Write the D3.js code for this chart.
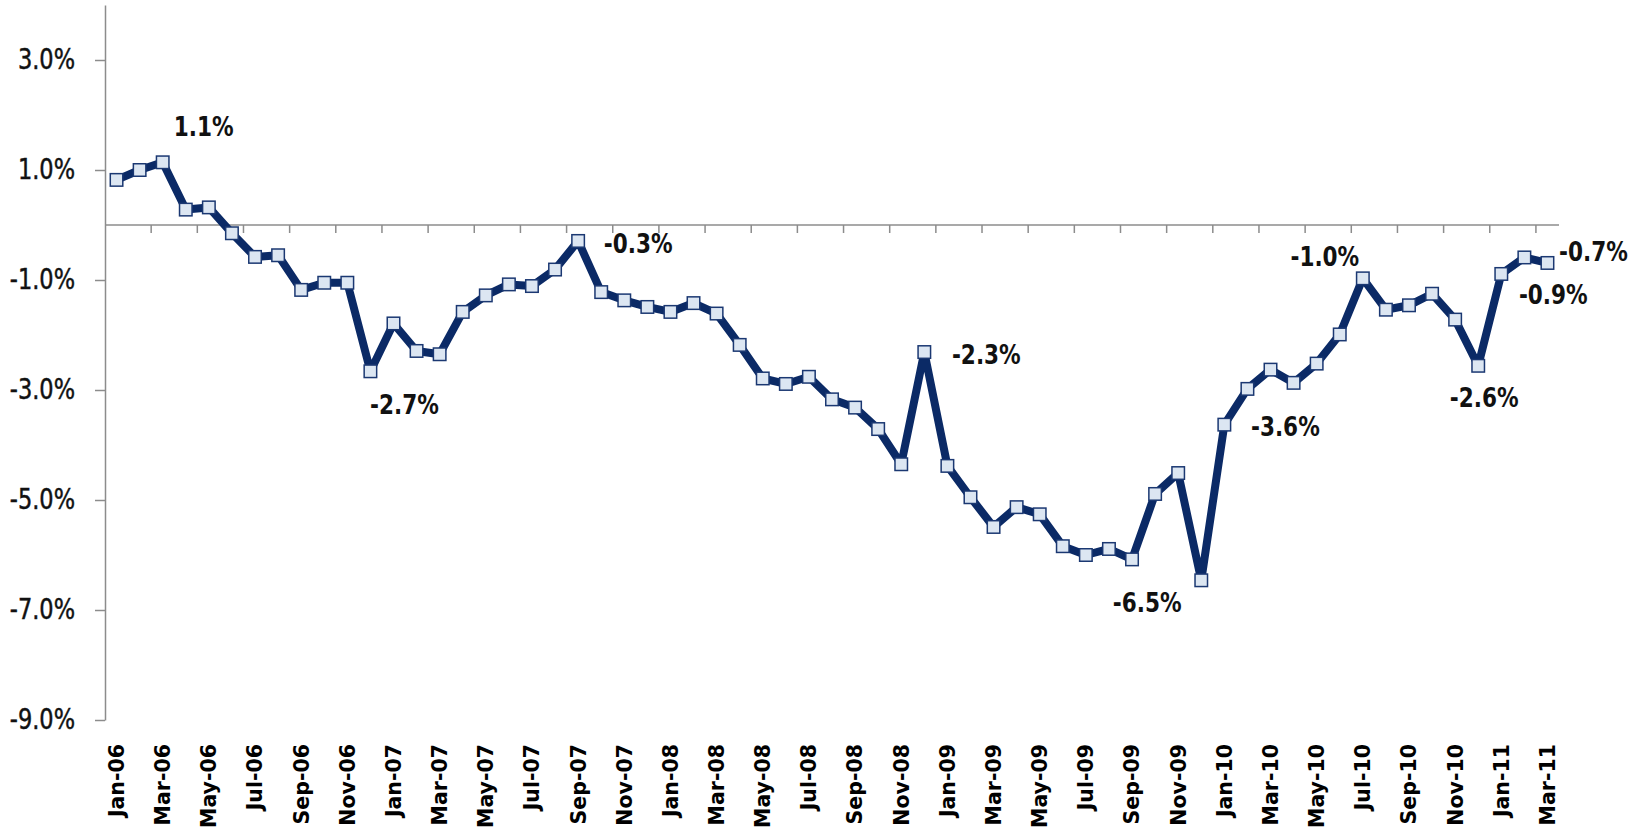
<!DOCTYPE html>
<html>
<head>
<meta charset="utf-8">
<script src="https://cdn.jsdelivr.net/npm/d3@7"></script>
<style>
  body { margin: 0; background: #fff; }
  svg { display: block; }
</style>
</head>
<body>
<svg id="chart" width="1633" height="828"></svg>
<script>
const months = [
  "Jan-06","Feb-06","Mar-06","Apr-06","May-06","Jun-06","Jul-06","Aug-06","Sep-06","Oct-06","Nov-06","Dec-06",
  "Jan-07","Feb-07","Mar-07","Apr-07","May-07","Jun-07","Jul-07","Aug-07","Sep-07","Oct-07","Nov-07","Dec-07",
  "Jan-08","Feb-08","Mar-08","Apr-08","May-08","Jun-08","Jul-08","Aug-08","Sep-08","Oct-08","Nov-08","Dec-08",
  "Jan-09","Feb-09","Mar-09","Apr-09","May-09","Jun-09","Jul-09","Aug-09","Sep-09","Oct-09","Nov-09","Dec-09",
  "Jan-10","Feb-10","Mar-10","Apr-10","May-10","Jun-10","Jul-10","Aug-10","Sep-10","Oct-10","Nov-10","Dec-10",
  "Jan-11","Feb-11","Mar-11"
];

// % change
const values = [
  0.82, 1.00, 1.14, 0.28, 0.32, -0.15, -0.58, -0.55, -1.18, -1.05, -1.05, -2.66,
  -1.79, -2.29, -2.35, -1.58, -1.28, -1.08, -1.11, -0.81, -0.29, -1.22, -1.37, -1.49,
  -1.58, -1.42, -1.61, -2.18, -2.79, -2.89, -2.76, -3.17, -3.32, -3.71, -4.35, -2.31,
  -4.38, -4.95, -5.49, -5.13, -5.26, -5.84, -6.00, -5.89, -6.08, -4.89, -4.51, -6.46,
  -3.63, -2.98, -2.63, -2.87, -2.52, -1.99, -0.97, -1.54, -1.46, -1.25, -1.72, -2.56,
  -0.89, -0.59, -0.69
];

const yTicks = [-9, -7, -5, -3, -1, 1, 3];

// which points carry a value label, and where the label sits relative to the point
const callouts = [
  { i: 2,  dx: 41,  dy: -36 },
  { i: 11, dx: 34,  dy: 33 },
  { i: 20, dx: 60,  dy: 3 },
  { i: 35, dx: 62,  dy: 2 },
  { i: 47, dx: -54, dy: 22 },
  { i: 48, dx: 61,  dy: 2 },
  { i: 54, dx: -38, dy: -22 },
  { i: 59, dx: 6,   dy: 32 },
  { i: 60, dx: 52,  dy: 21 },
  { i: 62, dx: 46,  dy: -11 }
];

const pct = v => v.toFixed(1) + "%";
const navy = "#0b2a66";
const grey = "#8c8c8c";
const condensed = "'DejaVu Sans Condensed', 'DejaVu Sans', sans-serif";

const svg = d3.select("#chart");

const x = d3.scaleBand().domain(months).range([105, 1559]);
const y = d3.scaleLinear().domain([-9, 4]).range([720, 5]);
const cx = m => x(m) + x.bandwidth() / 2;

// y axis
const yAxis = svg.append("g")
  .attr("transform", "translate(105,0)")
  .call(d3.axisLeft(y).tickValues(yTicks).tickFormat(pct).tickSize(10).tickSizeOuter(0).tickPadding(20));
yAxis.select(".domain").attr("stroke", grey).attr("stroke-width", 1.5);
yAxis.selectAll(".tick line").attr("stroke", grey).attr("stroke-width", 1.5);
yAxis.selectAll(".tick text")
  .attr("fill", "#111")
  .attr("stroke", "#111")
  .attr("stroke-width", 0.4)
  .attr("font-family", condensed)
  .style("font-stretch", "condensed")
  .attr("font-size", 25)
  .attr("transform", "scale(1,1.1)");

// zero line with tick marks every two months
svg.append("line")
  .attr("x1", 105).attr("x2", 1559)
  .attr("y1", y(0)).attr("y2", y(0))
  .attr("stroke", grey).attr("stroke-width", 1.5);

const tickIdx = d3.range(2, months.length, 2);
svg.append("g").selectAll("line")
  .data(tickIdx)
  .enter()
  .append("line")
  .attr("x1", i => x(months[i]))
  .attr("x2", i => x(months[i]))
  .attr("y1", y(0))
  .attr("y2", y(0) + 8)
  .attr("stroke", grey)
  .attr("stroke-width", 1.5);

// month labels, rotated, under the plot
svg.append("g").selectAll("text")
  .data(months.filter((m, i) => i % 2 === 0))
  .enter()
  .append("text")
  .attr("transform", m => `translate(${cx(m)}, 744) rotate(-90)`)
  .attr("text-anchor", "end")
  .attr("dy", "0.36em")
  .attr("font-family", "'DejaVu Sans', sans-serif")
  .attr("font-weight", "bold")
  .attr("font-size", 20.5)
  .attr("fill", "#000")
  .text(m => m);

// the series
const line = d3.line()
  .x((d, i) => cx(months[i]))
  .y(d => y(d));

svg.append("path")
  .datum(values)
  .attr("d", line)
  .attr("fill", "none")
  .attr("stroke", navy)
  .attr("stroke-width", 8)
  .attr("stroke-linejoin", "round");

const size = 12.5;
svg.append("g").selectAll("rect")
  .data(values)
  .enter()
  .append("rect")
  .attr("x", (d, i) => cx(months[i]) - size / 2)
  .attr("y", d => y(d) - size / 2)
  .attr("width", size)
  .attr("height", size)
  .attr("fill", "#dce6f2")
  .attr("stroke", "#1b3872")
  .attr("stroke-width", 1.5);

// value labels
svg.append("g").selectAll("text")
  .data(callouts)
  .enter()
  .append("text")
  .attr("transform", c => `translate(${cx(months[c.i]) + c.dx}, ${y(values[c.i]) + c.dy}) scale(1,1.1)`)
  .attr("text-anchor", "middle")
  .attr("dy", "0.36em")
  .attr("font-family", condensed)
  .style("font-stretch", "condensed")
  .attr("font-weight", "bold")
  .attr("font-size", 24)
  .attr("fill", "#111")
  .text(c => pct(values[c.i]));
</script>
</body>
</html>
